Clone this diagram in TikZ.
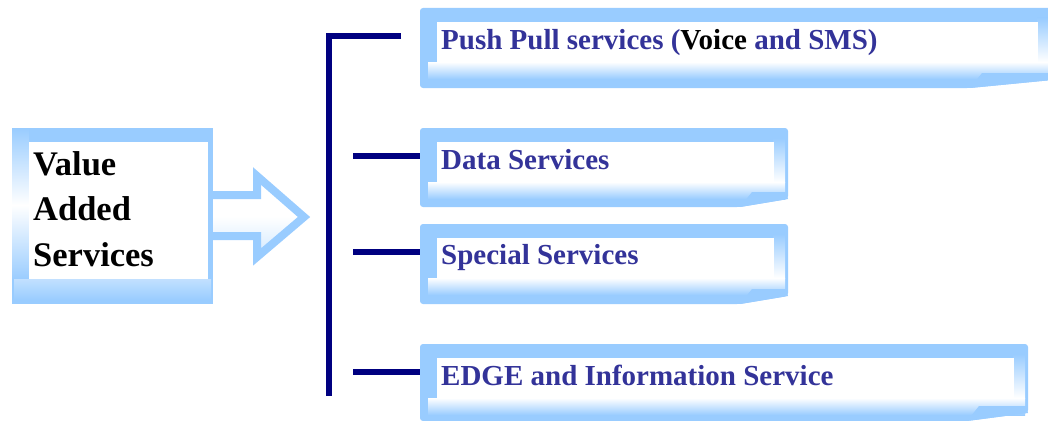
\documentclass[tikz,border=0pt]{standalone}
\usepackage{fontspec}
\setmainfont{Liberation Serif}
\definecolor{lb}{HTML}{99CCFF}
\definecolor{tb}{HTML}{333399}
\definecolor{nv}{HTML}{000080}
\newcommand\svcbox[5]{% #1 left, #2 top, #3 right, #4 bottom, #5 diagonal start x
  \fill[lb, rounded corners=3pt] (#1,#2) -- (#3,#2) -- (#3,#4-8) -- (#5,#4) -- (#1,#4) -- cycle;
  \shade[top color=lb, bottom color=white] (#3-15,#2+10) rectangle (#3-3,#2+54);
  \shade[top color=white, bottom color=lb] (#1+8,#2+54) rectangle (#3-3,#2+71);
  \fill[white] (#1+17,#2+14) rectangle (#3-14,#2+54);
  \fill[lb] (#5,#4) -- (#5+12,#4-15) -- (#3-2,#4-15) -- (#3,#4-8) -- cycle;
}
\begin{document}
\begin{tikzpicture}[x=1pt,y=-1pt,
  svctext/.style={anchor=base west, inner sep=0pt, text=tb,
    font=\fontsize{29}{34}\selectfont\bfseries},
  vastext/.style={anchor=base west, inner sep=0pt, align=left, text=black,
    font=\fontsize{34.5}{45.5}\selectfont\bfseries},
  conn/.style={draw=nv, line width=6pt}]
\clip (0,0) rectangle (1048,420);
\fill[white] (0,0) rectangle (1048,420);

% arrow
\draw[lb, line width=8pt, top color=white, bottom color=lb!45, middle color=white]
  (200,195) -- (257,195) -- (257,176) -- (304,217) -- (257,257) -- (257,236) -- (200,236) -- cycle;

% left box
\fill[lb] (12,128) rectangle (213,304);
\shade[top color=lb, bottom color=white] (12,128) rectangle (29,205);
\shade[top color=white, bottom color=lb] (12,205) rectangle (29,280);
\shade[top color=white!40!lb, bottom color=lb] (14,279) rectangle (211,300);
\fill[white] (29,142) rectangle (208,279);
\node[vastext] (vas) at (33,266) {Value\\Added\\Services};

% service boxes
\svcbox{420}{8}{1052}{88}{970}
\svcbox{420}{128}{788}{207}{740}
\svcbox{420}{224}{788}{304}{740}
\svcbox{420}{344}{1028}{421}{967}

\node[svctext] (t1) at (441,49) {Push Pull services (\textcolor{black}{Voice} and SMS)};
\node[svctext] (t2) at (441,169) {Data Services};
\node[svctext] (t3) at (441,264) {Special Services};
\node[svctext] (t4) at (441,385) {EDGE and Information Service};

% connectors
\coordinate (top) at (401,36);
\coordinate (bot) at (329,396);
\coordinate (b2) at (353,156);
\coordinate (b3) at (353,252);
\coordinate (b4) at (353,372);
\coordinate (e2) at (420,156);
\coordinate (e3) at (420,252);
\coordinate (e4) at (420,372);
\draw[conn] (top) -- (329,36) -- (bot);
\draw[conn] (b2) -- (e2);
\draw[conn] (b3) -- (e3);
\draw[conn] (b4) -- (e4);
\end{tikzpicture}
\end{document}
